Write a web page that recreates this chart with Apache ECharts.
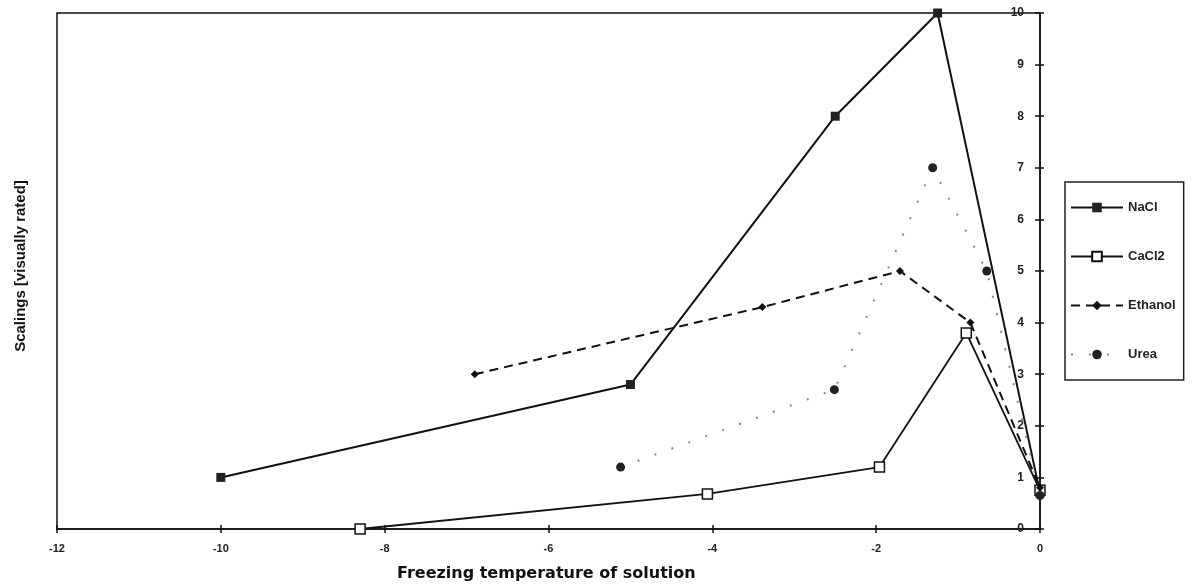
<!DOCTYPE html>
<html>
<head>
<meta charset="utf-8">
<script src="https://cdn.jsdelivr.net/npm/echarts@6/dist/echarts.min.js"></script>
<style>
  html, body { margin: 0; padding: 0; background: #fff; }
  #main { width: 1194px; height: 588px; }
</style>
</head>
<body>
<div id="main"></div>
<script>
// data
const xTicks = [-12, -10, -8, -6, -4, -2, 0];
const yTicks = [0, 1, 2, 3, 4, 5, 6, 7, 8, 9, 10];

const naclX = [-10.0, -5.0, -2.5, -1.25, 0];
const naclY = [1.0, 2.8, 8.0, 10.0, 0.7];

const cacl2X = [-8.3, -4.06, -1.96, -0.9, 0];
const cacl2Y = [0, 0.68, 1.2, 3.8, 0.75];

const ethanolX = [-6.9, -3.39, -1.71, -0.85, 0];
const ethanolY = [3.0, 4.3, 5.0, 4.0, 0.8];

const ureaX = [-5.12, -2.51, -1.31, -0.65, 0];
const ureaY = [1.2, 2.7, 7.0, 5.0, 0.65];

const pairs = (xs, ys) => xs.map((x, i) => [x, ys[i]]);

const chartDom = document.getElementById('main');
const myChart = echarts.init(chartDom);

const labelFont = { color: '#222', fontSize: 12, fontWeight: 'bold', fontFamily: 'Liberation Sans' };

const option = {
    animation: false,
    backgroundColor: '#fff',
    grid: {
        left: 57, right: 154, top: 13, bottom: 59,
        show: true, borderColor: '#111', borderWidth: 1.5
    },
    xAxis: [
        {
            type: 'value', min: xTicks[0], max: xTicks[xTicks.length - 1], interval: 2,
            axisLine: { onZero: false, lineStyle: { color: '#111', width: 1.5 } },
            axisTick: { length: 4, lineStyle: { color: '#111', width: 1.5 } },
            axisLabel: { ...labelFont, fontSize: 11, margin: 14 },
            splitLine: { show: false }
        },
        {
            // second copy only to make ticks cross the line
            type: 'value', min: xTicks[0], max: xTicks[xTicks.length - 1], interval: 2, position: 'bottom',
            axisLine: { show: false },
            axisTick: { inside: true, length: 4, lineStyle: { color: '#111', width: 1.5 } },
            axisLabel: { show: false },
            splitLine: { show: false }
        }
    ],
    yAxis: [
        {
            type: 'value', min: yTicks[0], max: yTicks[yTicks.length - 1], interval: 1, position: 'right',
            axisLine: { show: true, onZero: false, lineStyle: { color: '#111', width: 1.5 } },
            axisTick: { show: true, inside: true, length: 5, lineStyle: { color: '#111', width: 1.5 } },
            axisLabel: { ...labelFont, inside: true, margin: 16 },
            splitLine: { show: false }
        },
        {
            type: 'value', min: yTicks[0], max: yTicks[yTicks.length - 1], interval: 1, position: 'right',
            axisLine: { show: false },
            axisTick: { show: true, length: 4, lineStyle: { color: '#111', width: 1.5 } },
            axisLabel: { show: false },
            splitLine: { show: false }
        }
    ],
    legend: {
        orient: 'vertical',
        left: 1065, top: 182,
        padding: [19, 8, 19, 5],
        itemGap: 36,
        itemWidth: 52,
        itemHeight: 12,
        borderColor: '#222',
        borderWidth: 1.5,
        textStyle: { color: '#222', fontSize: 13, fontWeight: 'bold', fontFamily: 'Liberation Sans' },
        data: ['NaCl', 'CaCl2', 'Ethanol', 'Urea']
    },
    graphic: [
        {
            type: 'text', left: 397, top: 566,
            style: { text: 'Freezing temperature of solution', font: 'bold 16px "DejaVu Sans"', fill: '#111' }
        },
        {
            type: 'text', x: 21, y: 266, rotation: Math.PI / 2,
            style: { text: 'Scalings [visually rated]', font: 'bold 15px "Liberation Sans"', fill: '#111', align: 'center', verticalAlign: 'middle' }
        }
    ],
    series: [
        {
            name: 'NaCl', type: 'line', data: pairs(naclX, naclY),
            symbol: 'rect', symbolSize: 9,
            itemStyle: { color: '#222' },
            lineStyle: { color: '#111', width: 2 }
        },
        {
            name: 'CaCl2', type: 'line', data: pairs(cacl2X, cacl2Y),
            symbol: 'rect', symbolSize: 10,
            itemStyle: { color: '#fff', borderColor: '#111', borderWidth: 1.5 },
            lineStyle: { color: '#111', width: 1.8 }
        },
        {
            name: 'Ethanol', type: 'line', data: pairs(ethanolX, ethanolY),
            symbol: 'diamond', symbolSize: 8,
            itemStyle: { color: '#111' },
            lineStyle: { color: '#111', width: 2, type: [9, 6] }
        },
        {
            name: 'Urea', type: 'line', data: pairs(ureaX, ureaY),
            symbol: 'circle', symbolSize: 9,
            itemStyle: { color: '#222' },
            lineStyle: { color: '#888', width: 2, type: [2, 16] }
        }
    ]
};
option && myChart.setOption(option);
</script>
</body>
</html>
